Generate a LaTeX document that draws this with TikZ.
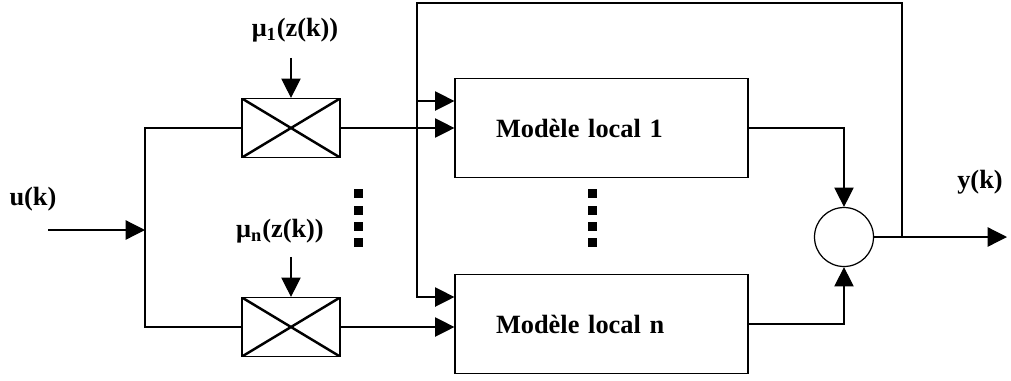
\documentclass[tikz,border=0pt]{standalone}
\usepackage{fontspec}
\setmainfont{Liberation Serif}
\usepackage{tikz}
\usetikzlibrary{positioning}
\usetikzlibrary{arrows.meta}

\begin{document}
\begin{tikzpicture}[x=0.02cm, y=-0.02cm, line width=0.7pt,
  font=\bfseries\fontsize{15}{18}\selectfont,
  mult/.style = {draw, minimum width=1.96cm, minimum height=1.18cm, inner sep=0pt,
    path picture={\draw[line width=1.4pt] (path picture bounding box.north west) -- (path picture bounding box.south east)
      (path picture bounding box.south west) -- (path picture bounding box.north east);}},
  model/.style = {draw, minimum height=1.98cm, text width=4.22cm, inner xsep=0.82cm, align=left},
  sum/.style = {draw, circle, minimum size=1.18cm, inner sep=0pt},
  >={Triangle[length=11pt, width=11pt]}]
\useasboundingbox (0,0) rectangle (1011,380);
\node[mult] (m1) at (291,128) {};
\node[mult] (mn) at (291,327) {};
\node[model] (f1) at (601.5,128) {Modèle local 1};
\node[model] (fn) at (601.5,324) {Modèle local n};
\node[sum] (s) at (844,237) {};
\node (mu1) at (295,30) {μ\textsubscript{1}(z(k))};
\node (mun) at (280,231) {μ\textsubscript{n}(z(k))};
\node (u) at (33,199) {u(k)};
\node (y) at (980,182) {y(k)};
\coordinate (in) at (48,230);
\coordinate (bus) at (145,230);
\coordinate (tap) at (902,237);
\coordinate (out) at (1007,237);
\coordinate (fb) at (417,3);
\coordinate (f1in) at ([yshift=0.54cm]f1.west);
\coordinate (fnin) at ([yshift=0.54cm]fn.west);
\draw[->] (in) -- (bus);
\draw (m1.west) -| (bus) |- (mn.west);
\draw[->] ([yshift=0.8cm]m1.north) -- (m1.north);
\draw[->] ([yshift=0.8cm]mn.north) -- (mn.north);
\draw[->] (m1.east) -- (m1.east -| f1.west);
\draw[->] (mn.east) -- (mn.east -| fn.west);
\draw[->] (f1.east) -| (s.north);
\draw[->] (fn.east) -| (s.south);
\draw[->] (s.east) -- (out);
\draw[->] (tap) |- (fb) |- (fnin);
\draw[->] (f1in -| fb) -- (f1in);
% pointilles
\foreach \y in {193,210,226,242} {
  \fill (353.5,\y-4.5) rectangle ++(9,9);
  \fill (587.5,\y-4.5) rectangle ++(9,9);
}
\end{tikzpicture}
\end{document}
